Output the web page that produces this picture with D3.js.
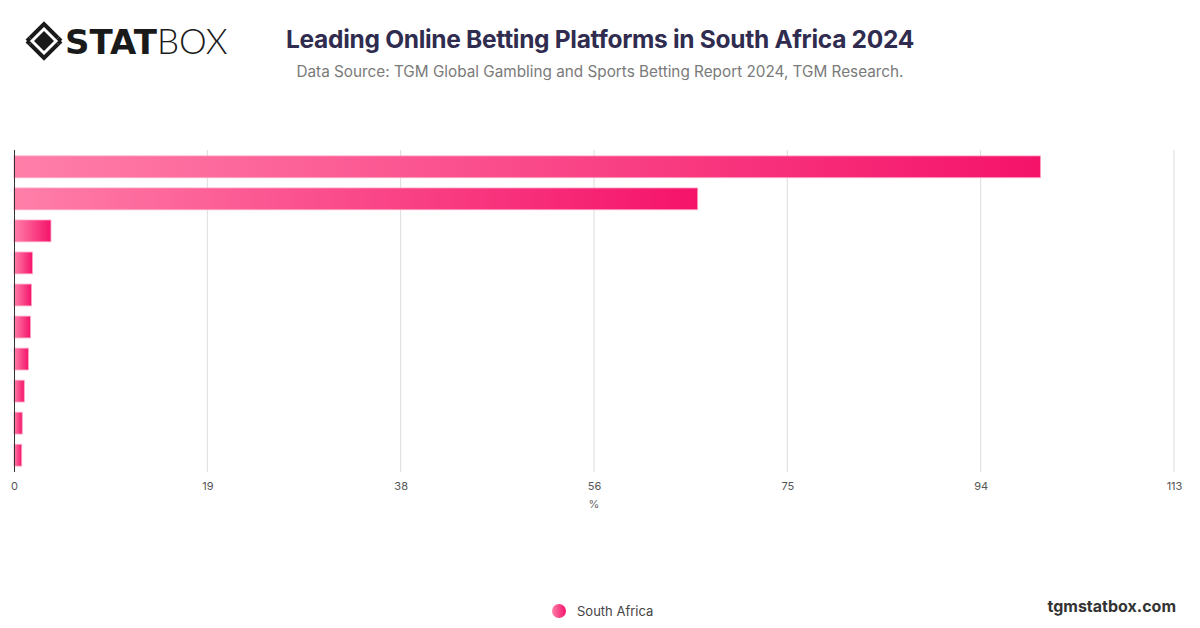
<!DOCTYPE html>
<html>
<head>
<meta charset="utf-8">
<script src="https://cdn.jsdelivr.net/npm/d3@7"></script>
<style>
  html, body { margin: 0; padding: 0; background: #fff; }
  svg { display: block; }
</style>
</head>
<body>
<svg id="chart" width="1200" height="628"></svg>
<script>
// ---- data ----
const categories = ["Platform 1", "Platform 2", "Platform 3", "Platform 4", "Platform 5",
                    "Platform 6", "Platform 7", "Platform 8", "Platform 9", "Platform 10"];
const values = [100, 66.6, 3.6, 1.8, 1.7, 1.6, 1.4, 1.0, 0.8, 0.75];
const tickValues = [0, 113/6, 113/3, 56.5, 113*2/3, 113*5/6, 113];
const tickLabels = ["0", "19", "38", "56", "75", "94", "113"];
const seriesName = "South Africa";
const titleText = "Leading Online Betting Platforms in South Africa 2024";
const subtitleText = "Data Source: TGM Global Gambling and Sports Betting Report 2024, TGM Research.";

const svg = d3.select("#chart");
const font = "Inter, 'Open Sans', 'DejaVu Sans', sans-serif";

// gradient
const defs = svg.append("defs");
const grad = defs.append("linearGradient").attr("id", "barGrad")
  .attr("x1", "0%").attr("x2", "100%").attr("y1", "0%").attr("y2", "0%");
grad.append("stop").attr("offset", "0%").attr("stop-color", "#ff7fa9");
grad.append("stop").attr("offset", "100%").attr("stop-color", "#f5136a");
const lgrad = defs.append("linearGradient").attr("id", "legGrad")
  .attr("x1", "0%").attr("x2", "100%").attr("y1", "0%").attr("y2", "0%");
lgrad.append("stop").attr("offset", "0%").attr("stop-color", "#ff7fa9");
lgrad.append("stop").attr("offset", "100%").attr("stop-color", "#f5136a");

// scales
const x = d3.scaleLinear().domain([0, 113]).range([14, 1174]);
const y = d3.scaleBand().domain(categories).range([150.8, 471.2]).paddingInner(0.32).paddingOuter(0.16);

// grid
svg.append("g").selectAll("line").data(tickValues.slice(1)).join("line")
  .attr("x1", d => x(d)).attr("x2", d => x(d))
  .attr("y1", 150).attr("y2", 472)
  .attr("stroke", "#dcdcdc").attr("stroke-width", 1);

// bars
svg.append("g").selectAll("rect").data(values).join("rect")
  .attr("x", x(0))
  .attr("y", (d, i) => y(categories[i]))
  .attr("width", d => x(d) - x(0))
  .attr("height", y.bandwidth())
  .attr("fill", "url(#barGrad)")
  .attr("stroke", "#ffa3c2")
  .attr("stroke-width", 0.8);

// y axis line
svg.append("line").attr("x1", 14.5).attr("x2", 14.5).attr("y1", 150).attr("y2", 472)
  .attr("stroke", "#333").attr("stroke-width", 1);

// x axis
const xAxis = d3.axisBottom(x).tickValues(tickValues)
  .tickFormat((d, i) => tickLabels[i]).tickSize(0).tickPadding(6);
const gx = svg.append("g").attr("transform", "translate(0,476)").call(xAxis);
gx.select(".domain").remove();
gx.selectAll("text").attr("fill", "#555").style("font-size", "11px").style("font-family", font);

svg.append("text").attr("x", x(56.5)).attr("y", 508).attr("text-anchor", "middle")
  .attr("fill", "#666").style("font-size", "11px").style("font-family", font).text("%");

// title
svg.append("text").attr("x", 600).attr("y", 48).attr("text-anchor", "middle")
  .attr("fill", "#2f2c4f").style("font-size", "24.5px").style("font-weight", "700")
  .style("font-family", font).style("letter-spacing", "-0.3px").text(titleText);
svg.append("text").attr("x", 600).attr("y", 77).attr("text-anchor", "middle")
  .attr("fill", "#7a7a7a").style("font-size", "15.3px")
  .style("font-family", font).text(subtitleText);

// logo
const logo = svg.append("g").attr("transform", "translate(44,41)");
logo.append("path").attr("d", "M-14,-3 L0,-17 L14,-3")
  .attr("fill", "none").attr("stroke", "#1a1a1a").attr("stroke-width", 4).attr("stroke-linejoin", "miter");
logo.append("path").attr("d", "M-14,3 L0,17 L14,3")
  .attr("fill", "none").attr("stroke", "#1a1a1a").attr("stroke-width", 4).attr("stroke-linejoin", "miter");
logo.append("path").attr("d", "M-17,0 L-14,-3 M-17,0 L-14,3").attr("stroke", "#1a1a1a").attr("stroke-width", 4);
logo.append("path").attr("d", "M17,0 L14,-3 M17,0 L14,3").attr("stroke", "#1a1a1a").attr("stroke-width", 4);
logo.append("path").attr("d", "M0,-10 L10,0 L0,10 L-10,0 Z").attr("fill", "#1a1a1a");
svg.append("text").attr("x", 65).attr("y", 54)
  .style("font-family", "'DejaVu Sans', sans-serif").style("font-size", "34px")
  .attr("fill", "#1a1a1a")
  .call(t => {
    t.append("tspan").style("font-weight", "900").text("STAT");
    t.append("tspan").style("font-weight", "300").style("font-family", "Lato, 'Open Sans', sans-serif").style("font-size", "35px").text("BOX");
  });

// legend
svg.append("circle").attr("cx", 559).attr("cy", 611).attr("r", 7).attr("fill", "url(#legGrad)");
svg.append("text").attr("x", 577).attr("y", 615.5).attr("fill", "#444")
  .style("font-size", "13px").style("font-family", font).text(seriesName);

// footer
svg.append("text").attr("x", 1176).attr("y", 612).attr("text-anchor", "end")
  .attr("fill", "#333").style("font-size", "16px").style("font-weight", "700")
  .style("font-family", font).text("tgmstatbox.com");
</script>
</body>
</html>
